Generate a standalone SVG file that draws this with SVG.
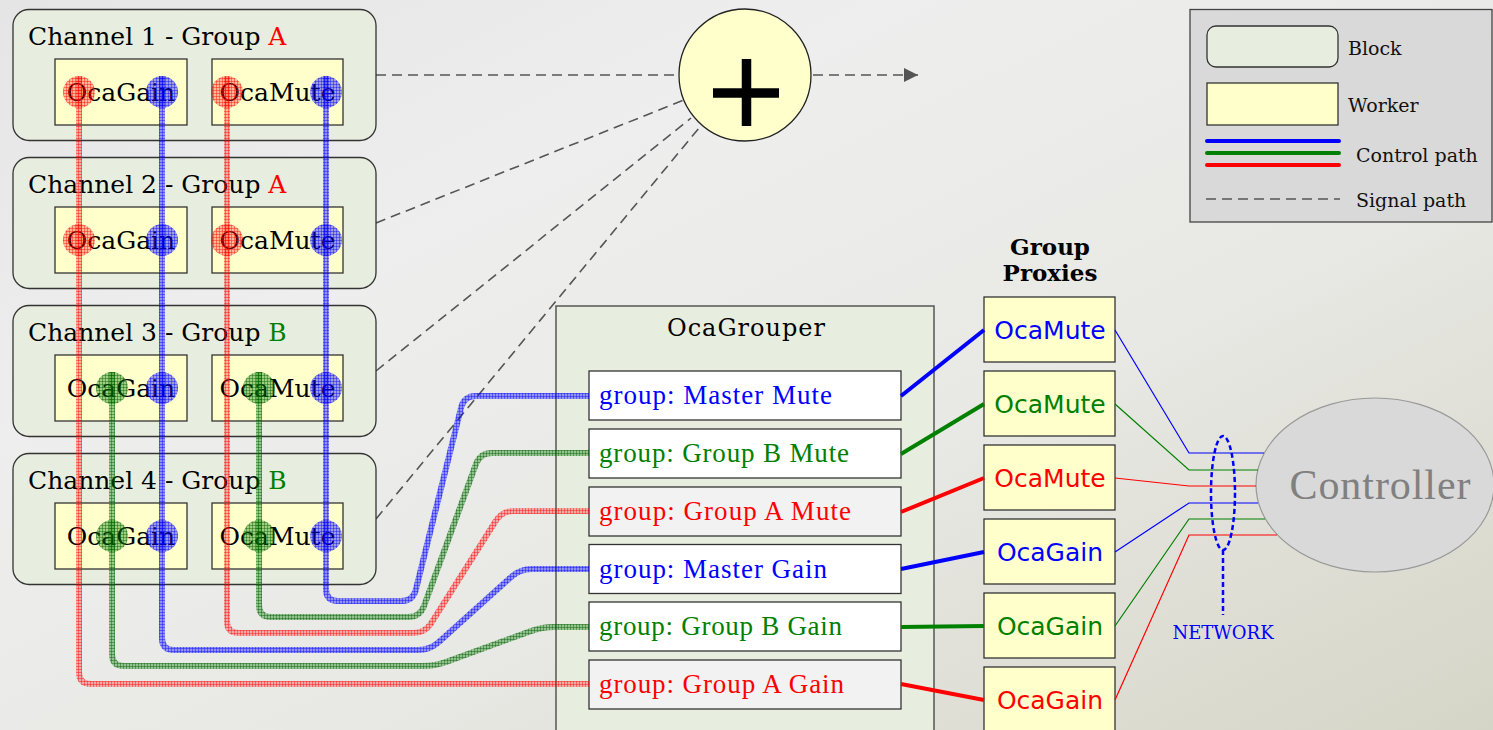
<svg xmlns="http://www.w3.org/2000/svg" width="1493" height="730" viewBox="0 0 1493 730">
  <defs>
    <linearGradient id="bg" x1="0" y1="0" x2="1" y2="1">
      <stop offset="0" stop-color="#e5e5e5"/>
      <stop offset="0.3" stop-color="#eeeeee"/>
      <stop offset="0.62" stop-color="#e8e8e4"/>
      <stop offset="1" stop-color="#d5d5c7"/>
    </linearGradient>
    <!-- hatched fills for the control paths -->
    <pattern id="hatch-b" width="3" height="3" patternUnits="userSpaceOnUse">
      <rect width="3" height="3" fill="#0000ff" fill-opacity="0.38"/>
      <path d="M0 0.5H3M0.5 0V3" stroke="#0000ff" stroke-opacity="0.5" stroke-width="0.8"/>
    </pattern>
    <pattern id="hatch-g" width="3" height="3" patternUnits="userSpaceOnUse">
      <rect width="3" height="3" fill="#008000" fill-opacity="0.38"/>
      <path d="M0 0.5H3M0.5 0V3" stroke="#005500" stroke-opacity="0.5" stroke-width="0.8"/>
    </pattern>
    <pattern id="hatch-r" width="3" height="3" patternUnits="userSpaceOnUse">
      <rect width="3" height="3" fill="#ff0000" fill-opacity="0.28"/>
      <path d="M0 0.5H3M0.5 0V3" stroke="#ff0000" stroke-opacity="0.5" stroke-width="0.8"/>
    </pattern>
    <marker id="arrow" viewBox="0 0 10 10" refX="10" refY="5" markerWidth="14" markerHeight="14" markerUnits="userSpaceOnUse" orient="auto">
      <path d="M0 0L10 5L0 10z" fill="#555"/>
    </marker>
  </defs>
  <style>
    .block { fill: #e8eedf; stroke: #333; stroke-width: 1.3; }
    .worker { fill: #ffffcc; stroke: #333; stroke-width: 1.3; }
    .title { font-family: "DejaVu Serif", serif; font-size: 25px; fill: #000; }
    .wtext { font-family: "DejaVu Serif", serif; font-size: 25px; fill: #000; text-anchor: middle; }
    .entry { stroke: #333; stroke-width: 1.3; }
    .etext { font-family: "Liberation Serif", serif; font-size: 27px; }
    .ptext { font-family: "DejaVu Sans", sans-serif; font-size: 25px; text-anchor: middle; }
    .legtext { font-family: "DejaVu Serif", serif; font-size: 19px; fill: #111; }
    .sig { fill: none; stroke: #555; stroke-width: 1.6; stroke-dasharray: 10 6; }
    .ctl { fill: none; stroke-width: 6; stroke-linejoin: round; }
    .link { fill: none; stroke-width: 4; }
    .net { fill: none; stroke-width: 1.2; }
    .tb { fill: #0000ff; }
    .tg { fill: #008000; }
    .tr { fill: #ff0000; }
  </style>

  <rect width="1493" height="730" fill="url(#bg)"/>

  <!-- signal paths into the summing node -->
  <g id="signal-paths">
    <path class="sig" d="M376 75H680"/>
    <path class="sig" d="M376 223L684 100"/>
    <path class="sig" d="M376 371L691 118"/>
    <path class="sig" d="M376 519L699 128"/>
    <path class="sig" d="M813 75H918" marker-end="url(#arrow)"/>
  </g>

  <!-- channel blocks -->
  <g id="channel1">
    <rect class="block" x="13" y="9.5" width="363" height="131" rx="16"/>
    <text class="title" x="28" y="45">Channel 1 - Group <tspan class="tr">A</tspan></text>
    <rect class="worker" x="55" y="59" width="132" height="66"/>
    <text class="wtext" x="121" y="101">OcaGain</text>
    <rect class="worker" x="212" y="59" width="131" height="66"/>
    <text class="wtext" x="277.5" y="101">OcaMute</text>
  </g>
  <g id="channel2">
    <rect class="block" x="13" y="157.5" width="363" height="131" rx="16"/>
    <text class="title" x="28" y="193">Channel 2 - Group <tspan class="tr">A</tspan></text>
    <rect class="worker" x="55" y="207" width="132" height="66"/>
    <text class="wtext" x="121" y="249">OcaGain</text>
    <rect class="worker" x="212" y="207" width="131" height="66"/>
    <text class="wtext" x="277.5" y="249">OcaMute</text>
  </g>
  <g id="channel3">
    <rect class="block" x="13" y="305.5" width="363" height="131" rx="16"/>
    <text class="title" x="28" y="341">Channel 3 - Group <tspan class="tg">B</tspan></text>
    <rect class="worker" x="55" y="355" width="132" height="66"/>
    <text class="wtext" x="121" y="397">OcaGain</text>
    <rect class="worker" x="212" y="355" width="131" height="66"/>
    <text class="wtext" x="277.5" y="397">OcaMute</text>
  </g>
  <g id="channel4">
    <rect class="block" x="13" y="453.5" width="363" height="131" rx="16"/>
    <text class="title" x="28" y="489">Channel 4 - Group <tspan class="tg">B</tspan></text>
    <rect class="worker" x="55" y="503" width="132" height="66"/>
    <text class="wtext" x="121" y="545">OcaGain</text>
    <rect class="worker" x="212" y="503" width="131" height="66"/>
    <text class="wtext" x="277.5" y="545">OcaMute</text>
  </g>

  <!-- summing node -->
  <g id="sum">
    <circle cx="745" cy="75" r="66" fill="#ffffcc" stroke="#222" stroke-width="1.3"/>
    <path d="M746.5 59V126M713 93H779" stroke="#000" stroke-width="9.5" fill="none"/>
  </g>

  <!-- grouper -->
  <g id="grouper">
    <rect x="556" y="306" width="378" height="440" fill="#e8eedf" stroke="#555" stroke-width="1.5"/>
    <text x="746" y="336" font-family="DejaVu Serif, serif" font-size="24" text-anchor="middle" textLength="158" lengthAdjust="spacing">OcaGrouper</text>
  </g>
  <g id="entry-master-mute">
    <rect class="entry" x="589" y="371" width="312" height="49" fill="#ffffff"/>
    <text class="etext tb" x="599" y="404" textLength="233" lengthAdjust="spacing">group: Master Mute</text>
  </g>
  <g id="entry-groupb-mute">
    <rect class="entry" x="589" y="429" width="312" height="49" fill="#ffffff"/>
    <text class="etext tg" x="599" y="462" textLength="250" lengthAdjust="spacing">group: Group B Mute</text>
  </g>
  <g id="entry-groupa-mute">
    <rect class="entry" x="589" y="487" width="312" height="49" fill="#f2f2f2"/>
    <text class="etext tr" x="599" y="520" textLength="252" lengthAdjust="spacing">group: Group A Mute</text>
  </g>
  <g id="entry-master-gain">
    <rect class="entry" x="589" y="544.5" width="312" height="49" fill="#ffffff"/>
    <text class="etext tb" x="599" y="577.5" textLength="228" lengthAdjust="spacing">group: Master Gain</text>
  </g>
  <g id="entry-groupb-gain">
    <rect class="entry" x="589" y="602" width="312" height="49" fill="#ffffff"/>
    <text class="etext tg" x="599" y="635" textLength="243" lengthAdjust="spacing">group: Group B Gain</text>
  </g>
  <g id="entry-groupa-gain">
    <rect class="entry" x="589" y="660" width="312" height="49" fill="#f2f2f2"/>
    <text class="etext tr" x="599" y="693" textLength="245" lengthAdjust="spacing">group: Group A Gain</text>
  </g>

  <!-- group proxies -->
  <g id="proxies-title">
    <text x="1050" y="255" font-family="DejaVu Serif, serif" font-size="23" font-weight="bold" text-anchor="middle">Group</text>
    <text x="1050" y="281" font-family="DejaVu Serif, serif" font-size="23" font-weight="bold" text-anchor="middle">Proxies</text>
  </g>
  <g id="proxy-master-mute">
    <rect class="worker" x="984" y="297" width="131" height="65"/>
    <text class="ptext tb" x="1050" y="339">OcaMute</text>
  </g>
  <g id="proxy-groupb-mute">
    <rect class="worker" x="984" y="371" width="131" height="65"/>
    <text class="ptext tg" x="1050" y="413">OcaMute</text>
  </g>
  <g id="proxy-groupa-mute">
    <rect class="worker" x="984" y="445" width="131" height="65"/>
    <text class="ptext tr" x="1050" y="487">OcaMute</text>
  </g>
  <g id="proxy-master-gain">
    <rect class="worker" x="984" y="519" width="131" height="65"/>
    <text class="ptext tb" x="1050" y="561">OcaGain</text>
  </g>
  <g id="proxy-groupb-gain">
    <rect class="worker" x="984" y="593" width="131" height="65"/>
    <text class="ptext tg" x="1050" y="635">OcaGain</text>
  </g>
  <g id="proxy-groupa-gain">
    <rect class="worker" x="984" y="667" width="131" height="70"/>
    <text class="ptext tr" x="1050" y="709">OcaGain</text>
  </g>

  <!-- controller -->
  <g id="controller">
    <ellipse cx="1375" cy="485" rx="119" ry="87" fill="#d9d9d9" stroke="#999" stroke-width="1.2"/>
    <text x="1380" y="499" font-family="Liberation Serif, serif" font-size="42" fill="#808080" text-anchor="middle" textLength="181" lengthAdjust="spacing">Controller</text>
  </g>

  <!-- control paths and links -->
  <g id="connectors">
    <path class="ctl" stroke="url(#hatch-r)" d="M79 76V672Q79 684 91 684H589"/>
    <path class="ctl" stroke="url(#hatch-g)" d="M112 372V654Q112 666 124 666H423Q435 666 446.3 661.9L530.7 631.1Q542 627 554 627H589"/>
    <path class="ctl" stroke="url(#hatch-b)" d="M162 76V638Q162 650 174 650H418Q430 650 438.9 642L511.1 577Q520 569 532 569H589"/>
    <path class="ctl" stroke="url(#hatch-r)" d="M227 76V621Q227 633 239 633H413Q425 633 431.4 622.8L495.6 521.2Q502 511 514 511H589"/>
    <path class="ctl" stroke="url(#hatch-g)" d="M259 372V605Q259 617 271 617H408Q420 617 424.1 605.7L475.9 464.3Q480 453 492 453H589"/>
    <path class="ctl" stroke="url(#hatch-b)" d="M326 76V589Q326 601 338 601H401Q413 601 415.9 589.4L461.1 407.6Q464 396 476 396H589"/>

    <!-- ports on the workers -->
    <circle cx="79" cy="92" r="16" fill="url(#hatch-r)"/>
    <circle cx="162" cy="92" r="16" fill="url(#hatch-b)"/>
    <circle cx="227" cy="92" r="16" fill="url(#hatch-r)"/>
    <circle cx="326" cy="92" r="16" fill="url(#hatch-b)"/>
    <circle cx="79" cy="240" r="16" fill="url(#hatch-r)"/>
    <circle cx="162" cy="240" r="16" fill="url(#hatch-b)"/>
    <circle cx="227" cy="240" r="16" fill="url(#hatch-r)"/>
    <circle cx="326" cy="240" r="16" fill="url(#hatch-b)"/>
    <circle cx="112" cy="388" r="16" fill="url(#hatch-g)"/>
    <circle cx="162" cy="388" r="16" fill="url(#hatch-b)"/>
    <circle cx="259" cy="388" r="16" fill="url(#hatch-g)"/>
    <circle cx="326" cy="388" r="16" fill="url(#hatch-b)"/>
    <circle cx="112" cy="536" r="16" fill="url(#hatch-g)"/>
    <circle cx="162" cy="536" r="16" fill="url(#hatch-b)"/>
    <circle cx="259" cy="536" r="16" fill="url(#hatch-g)"/>
    <circle cx="326" cy="536" r="16" fill="url(#hatch-b)"/>

    <!-- grouper entries to proxies -->
    <path class="link" stroke="#0000ff" d="M901 396L984 330"/>
    <path class="link" stroke="#008000" d="M901 454L984 404"/>
    <path class="link" stroke="#ff0000" d="M901 512L984 478"/>
    <path class="link" stroke="#0000ff" d="M901 569L984 552"/>
    <path class="link" stroke="#008000" d="M901 627L984 626"/>
    <path class="link" stroke="#ff0000" d="M901 684L984 700"/>

    <!-- proxies to controller over the network -->
    <path class="net" stroke="#0000ff" d="M1115 330L1189 453H1264"/>
    <path class="net" stroke="#008000" d="M1115 404L1189 470H1258"/>
    <path class="net" stroke="#ff0000" d="M1115 478L1189 486H1256"/>
    <path class="net" stroke="#0000ff" d="M1115 552L1189 503H1258"/>
    <path class="net" stroke="#008000" d="M1115 626L1189 519H1265"/>
    <path class="net" stroke="#ff0000" d="M1115 700L1189 535H1277"/>
  </g>

  <!-- network marker -->
  <g id="network">
    <ellipse cx="1223" cy="493" rx="12" ry="57" fill="none" stroke="#0000ff" stroke-width="2.5" stroke-dasharray="5 3"/>
    <path d="M1223 550V615" stroke="#0000ff" stroke-width="2.5" stroke-dasharray="5 3" fill="none"/>
    <text x="1223" y="639" font-family="DejaVu Serif, serif" font-size="18" fill="#0000ff" text-anchor="middle">NETWORK</text>
  </g>

  <!-- legend -->
  <g id="legend">
    <rect x="1190" y="9.5" width="302" height="212.5" fill="#d9d9d9" stroke="#444" stroke-width="1.3"/>
    <rect class="block" x="1207" y="26" width="131" height="41" rx="9"/>
    <text class="legtext" x="1348" y="55">Block</text>
    <rect class="worker" x="1207" y="83" width="131" height="42"/>
    <text class="legtext" x="1348" y="112">Worker</text>
    <path d="M1207 141H1339" stroke="#0000ff" stroke-width="4" stroke-linecap="round"/>
    <path d="M1207 153H1339" stroke="#008000" stroke-width="4" stroke-linecap="round"/>
    <path d="M1207 165H1339" stroke="#ff0000" stroke-width="4" stroke-linecap="round"/>
    <text class="legtext" x="1356" y="162">Control path</text>
    <path class="sig" d="M1206 199H1340"/>
    <text class="legtext" x="1356" y="207">Signal path</text>
  </g>
</svg>
